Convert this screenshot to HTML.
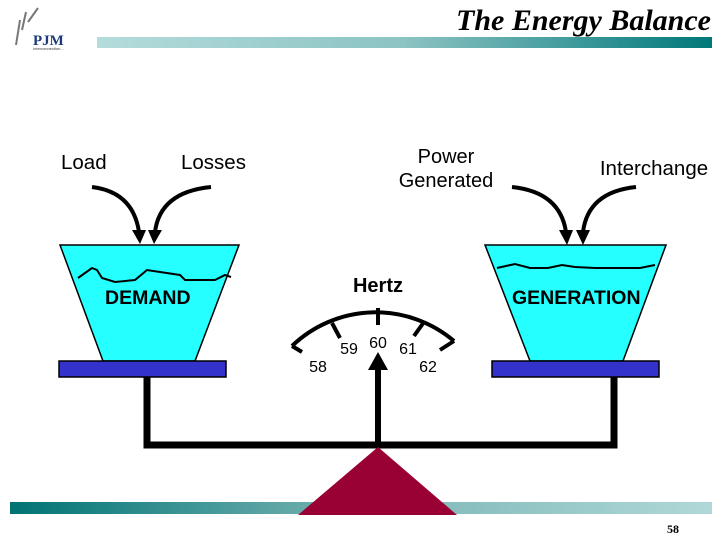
<!DOCTYPE html>
<html><head><style>
body{margin:0;background:#fff;}
svg{display:block;}
text{font-family:"Liberation Sans",Arial,sans-serif;}
</style></head><body>
<svg width="720" height="540" viewBox="0 0 720 540">
<defs>
<linearGradient id="tg" x1="0" x2="1"><stop offset="0" stop-color="#b4dcdc"/><stop offset="0.5" stop-color="#8cc3c3"/><stop offset="1" stop-color="#00787a"/></linearGradient>
<linearGradient id="bg" x1="0" x2="1"><stop offset="0" stop-color="#007373"/><stop offset="0.5" stop-color="#7ab5b5"/><stop offset="1" stop-color="#b0d8d8"/></linearGradient>
</defs>
<rect x="97" y="37" width="615" height="11" fill="url(#tg)"/>
<rect x="10" y="502" width="702" height="12" fill="url(#bg)"/>
<text x="711" y="30" text-anchor="end" font-style="italic" font-weight="bold" font-size="30" style="font-family:'Liberation Serif',serif">The Energy Balance</text>
<path d="M16,45 L20,20 M22,30 L26,12 M28,22 L38,8" stroke="#777" stroke-width="2" fill="none"/>
<text x="33" y="45" font-size="15" font-weight="bold" fill="#1a3a7a" style="font-family:'Liberation Serif',serif">PJM</text>
<text x="33" y="50" font-size="4" fill="#333">Interconnection...</text>
<path d="M147,377 V445 H614 V377" stroke="#000" stroke-width="7" fill="none"/>
<polygon points="378,447 298,515 457,515" fill="#990033"/>
<polygon points="60,245 239,245 195,361 103,361" fill="#00ffff" fill-opacity="0.85" stroke="#000" stroke-width="1.5"/>
<polygon points="485,245 666,245 623,361 530,361" fill="#00ffff" fill-opacity="0.85" stroke="#000" stroke-width="1.5"/>
<path d="M78,278 L92,268 L97,270 L102,278 L115,282 L135,280 L147,270 L160,272 L180,275 L185,280 L215,280 L225,275 L231,277" stroke="#000" stroke-width="2" fill="none"/>
<path d="M497,268 L515,264 L530,268 L548,268 L562,265 L575,267 L595,268 L620,268 L640,268 L655,265" stroke="#000" stroke-width="2" fill="none"/>
<rect x="59" y="361" width="167" height="16" fill="#3333cc" stroke="#000" stroke-width="1.5"/>
<rect x="492" y="361" width="167" height="16" fill="#3333cc" stroke="#000" stroke-width="1.5"/>
<text x="105" y="304" font-size="19.5" font-weight="bold">DEMAND</text>
<text x="512" y="304" font-size="19.5" font-weight="bold">GENERATION</text>
<g stroke="#000" stroke-width="4" fill="none">
<path d="M92,187 Q133,192 139,232"/><path d="M211,187 Q160,192 155,232"/>
<path d="M512,187 Q560,192 566,232"/><path d="M636,187 Q588,192 583,232"/>
</g>
<g fill="#000">
<polygon points="132,230 146,230 140,244"/><polygon points="148,230 162,230 154,244"/>
<polygon points="559,230 573,230 567,245"/><polygon points="576,230 590,230 583,245"/>
</g>
<text x="61" y="169" font-size="20.5">Load</text>
<text x="181" y="169" font-size="20.5">Losses</text>
<text x="446" y="163" font-size="20" text-anchor="middle">Power</text>
<text x="446" y="187" font-size="20" text-anchor="middle">Generated</text>
<text x="654" y="175" font-size="20.5" text-anchor="middle">Interchange</text>
<text x="378" y="292" font-size="20" font-weight="bold" text-anchor="middle">Hertz</text>
<path d="M292,346 A121,121 0 0 1 454,341" stroke="#000" stroke-width="4" fill="none"/>
<g stroke="#000" stroke-width="4">
<line x1="292" y1="346" x2="302" y2="352"/><line x1="454" y1="341" x2="440" y2="350"/>
<line x1="332" y1="323" x2="340" y2="338"/><line x1="378" y1="308" x2="378" y2="325"/><line x1="424" y1="322" x2="414" y2="336"/>
</g>
<text x="318" y="372" font-size="16" text-anchor="middle">58</text>
<text x="349" y="354" font-size="16" text-anchor="middle">59</text>
<text x="378" y="348" font-size="16" text-anchor="middle">60</text>
<text x="408" y="354" font-size="16" text-anchor="middle">61</text>
<text x="428" y="372" font-size="16" text-anchor="middle">62</text>
<line x1="378" y1="443" x2="378" y2="368" stroke="#000" stroke-width="6"/>
<polygon points="378,352 368,370 388,370" fill="#000"/>
<text x="673" y="533" font-size="12" font-weight="bold" text-anchor="middle" style="font-family:'Liberation Serif',serif">58</text>
</svg>
</body></html>
